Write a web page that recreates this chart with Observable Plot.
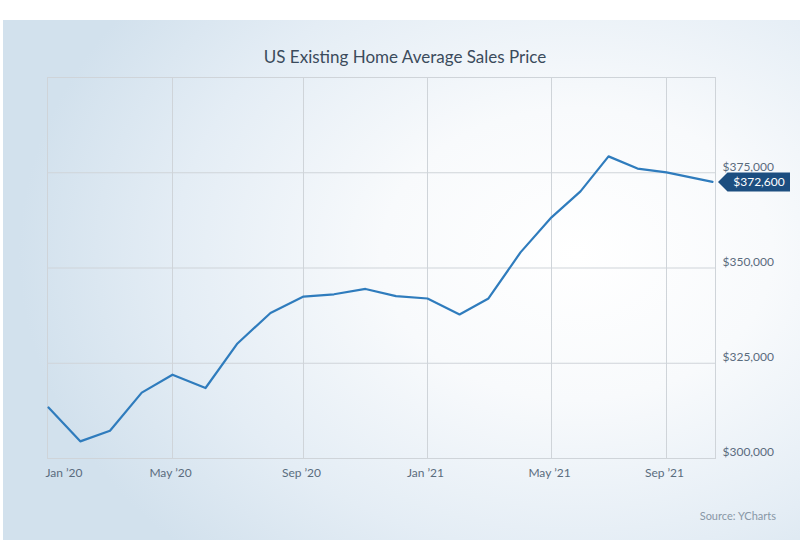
<!DOCTYPE html>
<html><head><meta charset="utf-8">
<script src="https://cdn.jsdelivr.net/npm/d3@7"></script>
<script src="https://cdn.jsdelivr.net/npm/@observablehq/plot@0.6"></script>
<style>
html,body{margin:0;padding:0;background:#fff;}
#wrap{position:relative;width:800px;height:560px;overflow:hidden;font-family:Lato,"Open Sans",sans-serif;}
#bg{position:absolute;left:3px;top:20px;width:797px;height:520px;background:radial-gradient(ellipse 70% 80% at 72% 45%, #ffffff 0%, #f8fafc 35%, #e4edf5 72%, #d2e1ed 100%);}
#title{position:absolute;top:46px;left:0;width:810px;text-align:center;font-size:17px;color:#3b4b5c;}
#chart{position:absolute;left:0;top:0;}
#source{position:absolute;right:24px;top:509px;font-size:11px;color:#8897a6;}
</style></head><body>
<div id="wrap"><div id="bg"></div><div id="title">US Existing Home Average Sales Price</div><div id="chart"></div><div id="source">Source: YCharts</div></div>
<script>
const months = ["2020-01","2020-02","2020-03","2020-04","2020-05","2020-06","2020-07","2020-08","2020-09","2020-10","2020-11","2020-12",
                "2021-01","2021-02","2021-03","2021-04","2021-05","2021-06","2021-07","2021-08","2021-09","2021-10"];
const prices = [313400,304500,307300,317300,322000,318500,330200,338200,342500,343100,344500,342600,
                342000,337800,342000,354100,363300,370100,379300,376100,375100,372600];
const tickMonths = ["2020-01","2020-05","2020-09","2021-01","2021-05","2021-09"];
const tickLabels = ["Jan ’20","May ’20","Sep ’20","Jan ’21","May ’21","Sep ’21"];
const yTicks = [300000,325000,350000,375000];
const yGrid = [325000,350000,375000];
const lastLabel = "$372,600";

const parse = d3.utcParse("%Y-%m");
const data = months.map((m,i)=>({date: parse(m), price: prices[i]}));
const ticks = tickMonths.map((m,i)=>({date: parse(m), label: tickLabels[i]}));
const gridCol = "#cfd4d9";
const labCol = "#5a6c7e";

const plot = Plot.plot({
  width:800, height:500, marginTop:77, marginBottom:42, marginLeft:47, marginRight:85,
  style:{background:"transparent", fontFamily:"Lato, sans-serif", overflow:"visible"},
  x:{type:"utc", axis:null,
     domain:[parse("2020-01"),parse("2020-05"),parse("2020-09"),parse("2021-01"),parse("2021-05"),parse("2021-09"),parse("2021-10")],
     range:[48,172,303,427,551,666,712]},
  y:{axis:null, domain:[300000,400000]},
  marks:[
    Plot.gridX(ticks.slice(1).map(d=>d.date), {stroke:gridCol, strokeOpacity:1}),
    Plot.gridY(yGrid, {stroke:gridCol, strokeOpacity:1}),
    Plot.frame({stroke:gridCol}),
    Plot.line(data, {x:"date", y:"price", stroke:"#2f7cbd", strokeWidth:2.2}),
    Plot.text(yTicks, {y:d=>d, text:d=>d3.format("$,")(d), frameAnchor:"right", textAnchor:"start", dx:7, dy:-6, fontSize:12, fill:labCol}),
    Plot.text(ticks.slice(0,1), {x:"date", text:"label", frameAnchor:"bottom", textAnchor:"start", dx:-3, dy:18, fontSize:12, fill:labCol}),
    Plot.text(ticks.slice(1), {x:"date", text:"label", frameAnchor:"bottom", dx:-2, dy:18, fontSize:12, fill:labCol})
  ]
});
document.getElementById("chart").appendChild(plot);

// value tag at the last point
const last = data[data.length-1];
const ty = plot.scale("y").apply(last.price) + 0.5;
const tx = 718;
const svg = d3.select(plot);
svg.append("path")
  .attr("d", `M${tx},${ty} L${tx+9.5},${ty-9.5} L${tx+72},${ty-9.5} L${tx+72},${ty+9.5} L${tx+9.5},${ty+9.5} Z`)
  .attr("fill", "#1c4e80");
svg.append("text")
  .attr("x", tx+41).attr("y", ty).attr("dy","0.35em")
  .attr("text-anchor","middle").attr("fill","#fff")
  .attr("font-size",12).attr("font-family","Lato, sans-serif")
  .text(lastLabel);
</script>
</body></html>
